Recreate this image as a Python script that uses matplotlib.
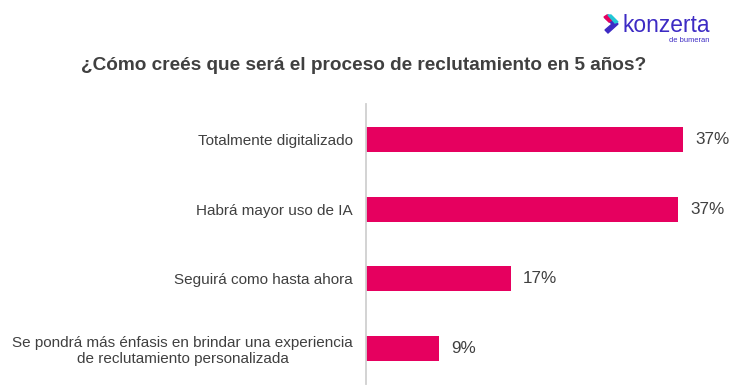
import matplotlib
matplotlib.use("Agg")
import matplotlib.pyplot as plt
from matplotlib.patches import Polygon

title = "¿Cómo creés que será el proceso de reclutamiento en 5 años?"
categories = ["Totalmente digitalizado", "Habrá mayor uso de IA", "Seguirá como hasta ahora",
              "Se pondrá más énfasis en brindar una experiencia\nde reclutamiento personalizada"]
values = [37.4, 36.8, 17.1, 8.7]
labels = ["37%", "37%", "17%", "9%"]

plt.rcParams['font.family'] = ['Liberation Sans', 'DejaVu Sans']
W, H = 744, 391
fig = plt.figure(figsize=(W/100, H/100), dpi=100)
ax = fig.add_axes([365.5/W, 1-384/H, (W-365.5)/W, (384-104)/H])
ax.barh(range(4), values, height=0.359, color="#E6005F")
ax.set_ylim(3.508, -0.509)
ax.set_xlim(0, (W-365.5)/8.5)
for s in ["top", "right", "bottom"]:
    ax.spines[s].set_visible(False)
ax.spines["left"].set_color("#D0D0D0")
ax.spines["left"].set_linewidth(1.3)
ax.set_xticks([])
ax.set_yticks(range(4))
ax.set_yticklabels(categories, fontsize=10.97, color="#404040", ha="right", multialignment="center")
ax.tick_params(axis="y", length=0, pad=9)
for v, l, i in zip(values, labels, range(4)):
    ax.annotate(l, (v, i), xytext=(8.6, 0), textcoords="offset points", va="center", fontsize=12.3, color="#404040")
fig.text(364/W, 1-65.5/H, title, fontsize=13.7, fontweight="bold", color="#404040", ha="center", va="center")
fig.text(666/W, 1-26/H, "konzerta", fontsize=16.4, color="#3D2BC4", ha="center", va="center")
fig.text(689/W, 1-40.5/H, "de bumeran", fontsize=5.4, color="#3D2BC4", ha="center", va="center")
fig.add_artist(Polygon([[608/W,1-15/H],[618/W,1-24/H],[608/W,1-33/H],[605/W,1-30/H],[612/W,1-24/H],[605/W,1-18/H]], closed=True, color="#3D2BC4", transform=fig.transFigure))
fig.add_artist(Polygon([[604/W,1-17/H],[607/W,1-15/H],[612/W,1-20/H],[609/W,1-22/H]], closed=True, color="#E6005F", transform=fig.transFigure))
fig.add_artist(Polygon([[608/W,1-15/H],[611/W,1-15/H],[618/W,1-22/H],[615/W,1-23/H]], closed=True, color="#22C7D6", transform=fig.transFigure))
fig.savefig("out.png", dpi=100)
